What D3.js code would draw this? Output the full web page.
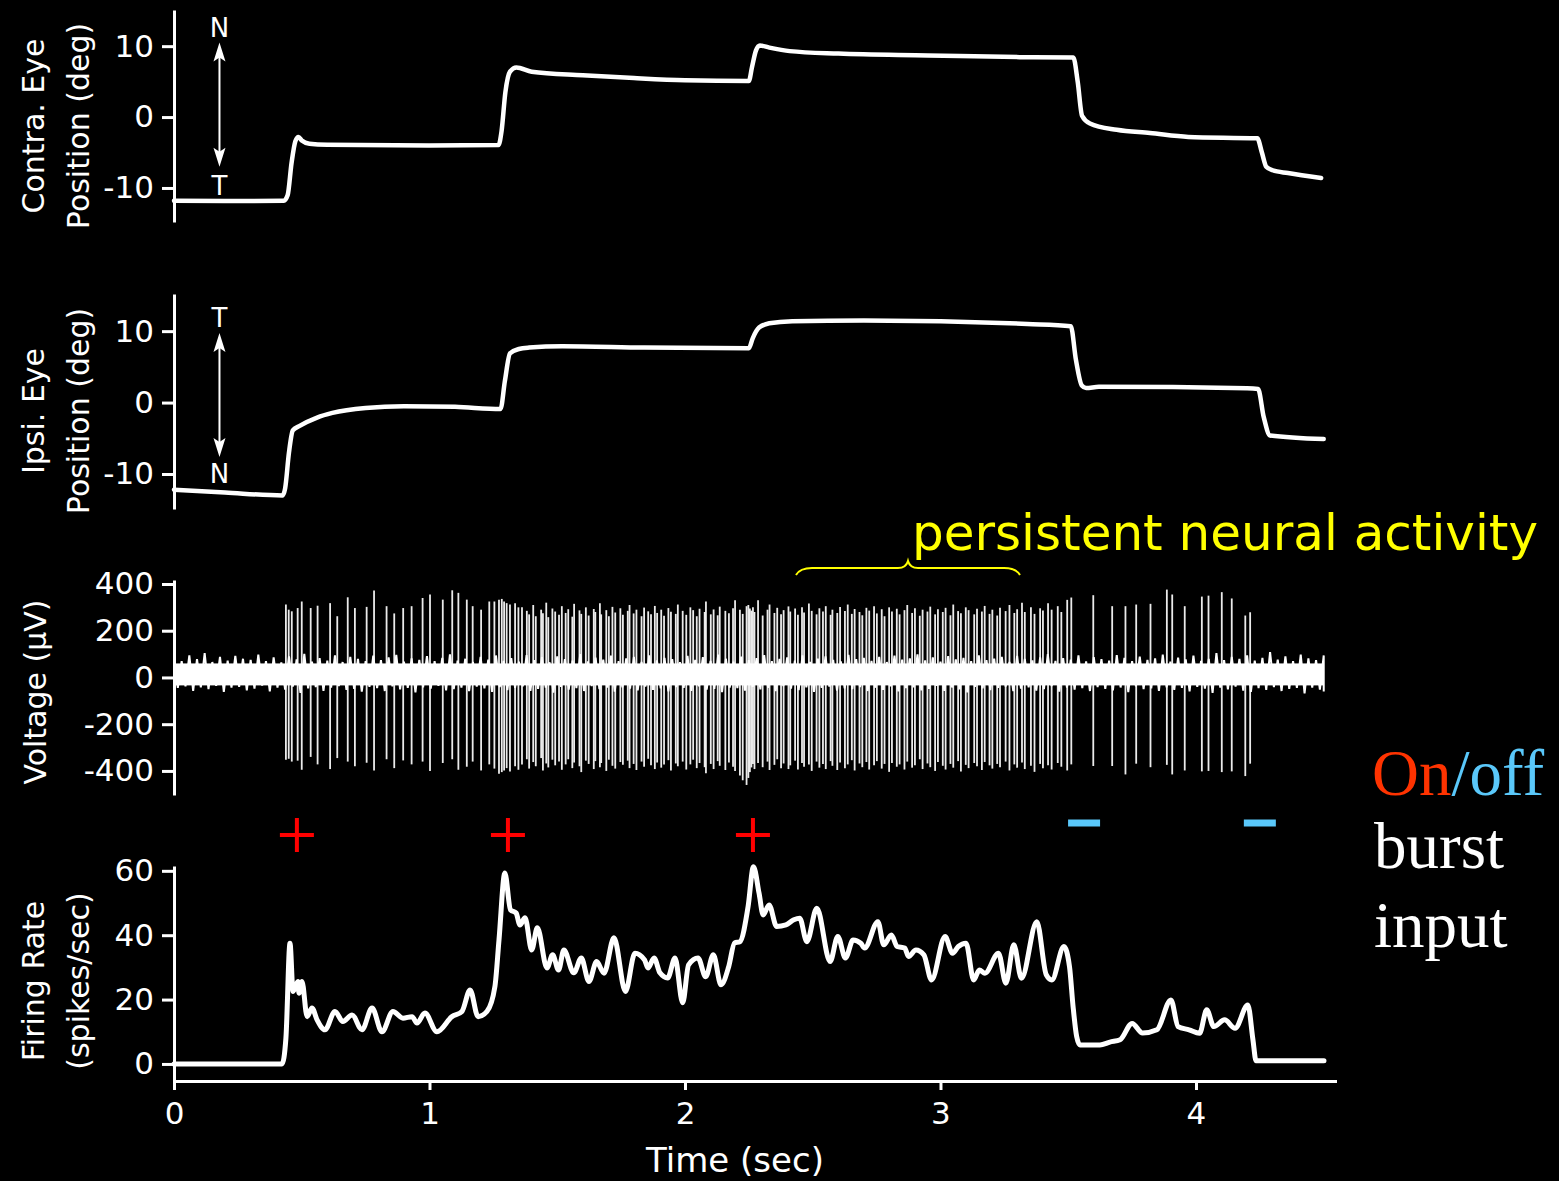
<!DOCTYPE html>
<html><head><meta charset="utf-8">
<script src="https://cdn.jsdelivr.net/npm/d3@7"></script>
<style>
html,body{margin:0;padding:0;background:#000;}
svg{display:block;background:#000;}
</style></head><body>
<svg id="chart" width="1559" height="1181"></svg>
<script>
// ---------------- DATA ----------------
const timeTicks = [0, 1, 2, 3, 4];
const eyeTicks = [-10, 0, 10];
const voltTicks = [-400, -200, 0, 200, 400];
const rateTicks = [0, 20, 40, 60];

// Contralateral eye position (deg)
const contraT   = [0,0.2,0.43,0.445,0.46,0.475,0.487,0.50,0.53,0.60,1.0,1.27,1.282,1.297,1.315,1.34,1.40,1.6,1.8,2.0,2.25,2.262,2.278,2.293,2.33,2.41,2.6,2.95,3.31,3.52,3.537,3.554,3.585,3.69,3.82,3.97,4.24,4.258,4.275,4.30,4.36,4.49];
const contraDeg = [-11.8,-11.85,-11.8,-11.0,-6.5,-3.4,-2.8,-3.3,-3.75,-3.9,-4.0,-3.95,-2.0,3.5,6.4,7.0,6.4,5.9,5.5,5.2,5.1,7.0,9.4,10.1,9.8,9.3,8.95,8.7,8.45,8.4,5.0,0.2,-0.9,-1.8,-2.25,-2.8,-3.0,-5.0,-7.0,-7.5,-7.9,-8.6];

// Ipsilateral eye position (deg)
const ipsiT   = [0,0.2,0.425,0.435,0.45,0.465,0.49,0.56,0.62,0.75,0.9,1.1,1.278,1.295,1.315,1.35,1.39,1.52,1.84,2.25,2.265,2.29,2.33,2.42,2.70,3.34,3.51,3.53,3.553,3.57,3.62,4.20,4.243,4.265,4.29,4.50];
const ipsiDeg = [-12.2,-12.6,-13.0,-12.0,-7,-3.9,-3.3,-2.1,-1.45,-0.75,-0.5,-0.6,-0.9,3.0,6.9,7.5,7.7,7.9,7.7,7.6,9.0,10.5,11.1,11.4,11.5,11.0,10.7,6,2.4,2.05,2.2,2.0,1.9,-2,-4.6,-5.1];

// Voltage: background noise band core (µV) and noise excursions, sampled evenly over 0–4.5 s
const noiseCore = [-34, 60];
const noiseUpper = [85,70,95,78,104,66,88,72,92,80,75,98,70,86,64,90,77,101,68,83,
 72,95,66,88,79,70,93,74,86,97,68,82,75,91,70,84,99,72,80,66,
 88,76,94,71,83,68,96,74,87,65,90,78,72,100,69,85,76,93,70,82,
 88,67,95,73,84,78,66,92,75,87,71,98,80,68,89,74,83,96,70,79,
 86,72,94,67,81,90,75,69,97,78,84,71,88,66,93,76,82,99,73,86,
 68,91,77,84,70,95,74,81,88,67,92,79,73,86,100,71,83,76,94,69,
 87,78,72,96,84,70,89,75,82,98,68,85,77,93,71,80,104,74,88,79,
 95,72,84,108,76,90,70,98,82,74,94];
const noiseLower = [-45,-38,-58,-42,-50,-36,-62,-44,-40,-55,-48,-35,-60,-43,-52,-39,-66,-47,-41,-57,
 -44,-37,-53,-49,-61,-40,-46,-58,-38,-51,-45,-64,-42,-48,-36,-55,-50,-43,-59,-39,
 -47,-62,-41,-54,-45,-38,-57,-49,-43,-65,-40,-52,-46,-58,-37,-50,-44,-61,-42,-48,
 -55,-39,-53,-47,-60,-41,-45,-57,-38,-52,-49,-63,-43,-46,-56,-40,-51,-44,-59,-37,
 -48,-54,-42,-62,-45,-39,-56,-47,-50,-41,-58,-44,-53,-38,-60,-46,-42,-55,-49,-36,
 -57,-43,-51,-64,-40,-47,-54,-45,-39,-59,-48,-42,-56,-50,-37,-61,-44,-52,-46,-58,
 -41,-49,-55,-43,-63,-38,-50,-47,-57,-42,-53,-45,-60,-40,-48,-66,-44,-51,-39,-56,
 -62,-46,-53,-41,-58,-49,-45,-68,-43,-52,-60];

// Voltage: spikes (time s, peak µV, trough µV)
const spikeTimes = [
 0.438,0.449,0.461,0.484,0.500,0.535,0.562,0.611,0.639,0.680,0.708,0.754,0.783,0.832,0.862,0.897,0.930,0.973,1.002,1.052,1.089,1.113,1.146,1.169,1.202,1.234,1.254,1.272,1.283,1.292,1.302,1.315,1.335,1.348,
 1.362,1.381,1.390,1.406,1.416,1.437,1.444,1.457,1.465,1.481,
 1.492,1.507,1.518,1.533,1.543,1.559,1.566,1.587,1.594,1.612,
 1.623,1.643,1.649,1.667,1.672,1.692,1.702,1.716,1.727,1.747,
 1.757,1.776,1.783,1.799,1.810,1.830,1.840,1.856,1.867,1.882,
 1.891,1.907,1.918,1.935,1.945,1.964,1.972,1.991,2.005,2.021,
 2.032,2.046,2.057,2.077,2.082,2.101,2.112,2.128,2.136,2.158,
 2.172,2.188,2.196,2.215,2.226,2.241,2.248,2.254,2.260,2.266,
 2.272,2.286,2.304,2.323,2.331,2.350,2.361,2.376,2.386,2.405,
 2.412,2.431,2.442,2.458,2.466,2.485,2.496,2.515,2.526,2.540,
 2.551,2.570,2.577,2.596,2.607,2.626,2.637,2.653,2.664,2.683,
 2.694,2.710,2.721,2.740,2.751,2.770,2.781,2.799,2.810,2.829,
 2.840,2.859,2.870,2.889,2.900,2.919,2.930,2.949,2.960,2.979,
 2.990,3.009,3.020,3.039,3.050,3.069,3.080,3.099,3.110,3.132,
 3.143,3.162,3.173,3.192,3.203,3.222,3.233,3.255,3.270,3.289,
 3.300,3.319,3.330,3.354,3.368,3.390,3.401,3.421,3.435,3.459,
 3.473,3.496,3.512,
 3.598,3.672,3.724,3.766,3.822,3.886,3.907,3.956,4.023,4.049,4.101,4.140,4.193,4.212];
const spikePeaks = [
 312,290,283,297,325,297,307,318,262,343,297,302,372,305,274,297,305,340,355,333,373,362,333,305,290,325,325,333,336,325,318,312,318,300,
 300,285,270,310,262,290,275,320,258,295,
 282,268,305,276,292,260,315,287,272,300,
 265,293,280,318,270,288,262,302,278,296,
 268,285,310,274,290,262,299,283,270,306,
 276,290,264,297,281,272,312,285,268,300,
 288,262,294,280,325,270,291,266,303,285,
 275,296,330,290,272,305,310,295,286,300,
 280,330,265,290,312,276,298,270,288,304,
 282,295,268,300,278,316,285,270,296,282,
 305,268,290,276,302,284,312,272,293,280,
 266,298,286,305,274,292,262,300,282,294,
 270,288,310,276,296,264,290,282,303,270,
 292,280,298,266,312,284,275,300,288,270,
 294,282,306,272,290,265,298,284,310,276,
 292,320,280,300,272,296,286,318,290,305,
 280,332,342,
 352,305,305,312,315,376,355,305,346,350,365,338,265,279];
const spikeTroughs = [
 -352,-348,-360,-356,-395,-340,-372,-392,-345,-360,-380,-365,-398,-350,-388,-355,-372,-360,-400,-366,-350,-395,-382,-360,-398,-372,-390,-412,-405,-398,-388,-402,-380,-395,
 -372,-350,-390,-362,-380,-345,-398,-368,-385,-352,
 -376,-360,-395,-372,-350,-388,-364,-380,-405,-356,
 -370,-392,-358,-384,-366,-400,-352,-378,-390,-362,
 -374,-356,-388,-370,-396,-360,-382,-348,-376,-392,
 -364,-386,-372,-354,-398,-368,-380,-360,-394,-372,
 -352,-388,-366,-384,-410,-370,-392,-358,-378,-396,
 -364,-382,-400,-420,-440,-460,-430,-405,-385,-370,
 -392,-366,-384,-360,-396,-374,-350,-388,-368,-392,
 -376,-356,-394,-366,-382,-372,-400,-360,-386,-370,
 -392,-358,-378,-396,-364,-388,-372,-354,-398,-368,
 -384,-362,-394,-376,-358,-390,-370,-404,-366,-382,
 -372,-394,-360,-386,-376,-350,-392,-368,-384,-400,
 -362,-378,-394,-370,-386,-358,-402,-374,-388,-366,
 -380,-396,-362,-376,-390,-370,-384,-360,-398,-372,
 -386,-364,-392,-378,-404,-370,-388,-376,-394,-366,
 -382,-398,-372,
 -379,-379,-415,-369,-384,-374,-415,-398,-402,-400,-405,-402,-422,-369];

// Firing rate (spikes/sec)
const rateT = [0,0.423,0.438,0.454,0.466,0.485,0.489,0.501,0.521,0.540,0.560,0.591,0.630,0.661,0.697,0.736,0.775,0.814,0.857,0.896,0.932,0.951,0.982,1.029,1.088,1.127,1.159,1.190,1.225,1.256,1.272,1.295,1.317,1.339,1.354,1.374,1.400,1.422,1.460,1.482,1.505,1.526,1.565,1.594,1.624,1.654,1.683,1.722,1.767,1.804,1.842,1.855,1.879,1.902,1.932,1.961,1.991,2.014,2.051,2.081,2.111,2.141,2.171,2.194,2.215,2.247,2.268,2.290,2.306,2.329,2.359,2.395,2.426,2.449,2.477,2.516,2.568,2.598,2.628,2.658,2.688,2.703,2.755,2.778,2.808,2.830,2.860,2.875,2.904,2.935,2.965,3.018,3.047,3.070,3.100,3.130,3.152,3.174,3.227,3.256,3.287,3.317,3.377,3.414,3.436,3.483,3.505,3.519,3.533,3.546,3.624,3.663,3.703,3.750,3.791,3.847,3.902,3.930,3.973,4.014,4.042,4.070,4.112,4.153,4.203,4.223,4.235,4.501];
const rateVal = [0,0,8,37.5,22.5,25.6,22,25.6,14.7,17.4,13.7,10.6,16.3,13.2,15.2,10.6,17.4,10.0,16.3,14.2,14.7,12.7,15.8,10.0,14.7,16.3,23,14.7,16.3,24,38.5,59.3,47.9,46.9,43.2,45.4,35.4,42.3,29.8,33.9,29.2,35.4,28.3,32.9,25.6,31.8,28.2,39.2,22.5,34.4,32.3,29.8,32.9,28.3,26.7,32.9,19,30.8,32.9,27.1,33.9,24.6,30.2,37.6,38,48.9,61.3,53,46.3,49.4,42.7,43.2,44.8,45.3,38,48.4,31.8,39.6,32.9,38.5,37.5,36,44.2,37,40.1,36.5,36,33.4,35.4,33.9,26.1,39.6,34.4,36.5,37.5,26.1,29.2,28.2,34.4,25.1,37,26.6,44.2,27.7,26.1,36.5,30.2,17.8,8.5,5.9,5.9,6.8,7.5,12.6,9.6,10.6,19.9,11.6,10.6,9.5,16.8,11.6,13.7,11.1,18.3,7.5,1.0,1.0];

// Burst input markers (s)
const onTimes = [0.481, 1.307, 2.266];
const offTimes = [3.562, 4.250];

// ---------------- DRAWING ----------------
const svg = d3.select('#chart');
const FONT = "'DejaVu Sans', sans-serif";
const x = d3.scaleLinear().domain([0, 4.55]).range([174, 1336.5]);

const y1 = d3.scaleLinear().domain([-14.8, 15.1]).range([222, 10]);
const y2 = d3.scaleLinear().domain([-14.9, 15.2]).range([509, 294]);
const y3 = d3.scaleLinear().domain([-503, 417]).range([795, 580]);
const y4 = d3.scaleLinear().domain([-5.3, 61.5]).range([1081, 866]);

function yAxis(scale, ticks) {
  const g = svg.append('g').attr('transform', 'translate(174,0)')
    .call(d3.axisLeft(scale).tickValues(ticks).tickSize(12).tickSizeOuter(0).tickPadding(8).tickFormat(d => String(d)));
  g.attr('font-family', FONT).attr('font-size', 31).style('color', '#fff');
  g.select('.domain').attr('stroke-width', 3);
  g.selectAll('.tick line').attr('stroke-width', 3);
  return g;
}
yAxis(y1, eyeTicks); yAxis(y2, eyeTicks); yAxis(y3, voltTicks); yAxis(y4, rateTicks);

const gx = svg.append('g').attr('transform', 'translate(0,1081)')
  .call(d3.axisBottom(x).tickValues(timeTicks).tickSize(9).tickSizeOuter(0).tickPadding(12).tickFormat(d => String(d)));
gx.attr('font-family', FONT).attr('font-size', 31).style('color', '#fff');
gx.select('.domain').attr('stroke-width', 3);
gx.selectAll('.tick line').attr('stroke-width', 3);

svg.append('text').attr('x', 735).attr('y', 1172).attr('text-anchor', 'middle')
  .attr('font-family', FONT).attr('font-size', 34).attr('fill', '#fff').text('Time (sec)');

// axis titles
function yTitle(lines, cy) {
  const xs = lines.length === 2 ? [33, 78] : [35];
  lines.forEach((t, i) => {
    svg.append('text').attr('transform', `translate(${xs[i] + 11},${cy}) rotate(-90)`)
      .attr('text-anchor', 'middle').attr('font-family', FONT).attr('font-size', 30)
      .attr('fill', '#fff').text(t);
  });
}
yTitle(['Contra. Eye', 'Position (deg)'], 126);
yTitle(['Ipsi. Eye', 'Position (deg)'], 411);
yTitle(['Voltage (\u03bcV)'], 692);
yTitle(['Firing Rate', '(spikes/sec)'], 981);

// traces
function trace(ts, vs, ys, w) {
  const line = d3.line().x(d => x(d[0])).y(d => ys(d[1])).curve(d3.curveMonotoneX);
  svg.append('path').datum(ts.map((t, i) => [t, vs[i]])).attr('d', line)
    .attr('fill', 'none').attr('stroke', '#fff').attr('stroke-width', w)
    .attr('stroke-linejoin', 'round').attr('stroke-linecap', 'round');
}
trace(contraT, contraDeg, y1, 4.5);
trace(ipsiT, ipsiDeg, y2, 4.5);

// N/T arrows
function arrow(t, vTop, vBot, ys, labTop, vLabTop, labBot, vLabBot) {
  const ax = x(t), yt = ys(vTop), yb = ys(vBot);
  svg.append('line').attr('x1', ax).attr('x2', ax).attr('y1', yt + 10).attr('y2', yb - 10)
    .attr('stroke', '#fff').attr('stroke-width', 2);
  svg.append('path').attr('d', `M${ax},${yt} L${ax - 6},${yt + 19} L${ax},${yt + 15} L${ax + 6},${yt + 19} Z`).attr('fill', '#fff');
  svg.append('path').attr('d', `M${ax},${yb} L${ax - 6},${yb - 19} L${ax},${yb - 15} L${ax + 6},${yb - 19} Z`).attr('fill', '#fff');
  svg.append('text').attr('x', ax).attr('y', ys(vLabTop)).attr('text-anchor', 'middle')
    .attr('font-family', FONT).attr('font-size', 26).attr('fill', '#fff').text(labTop);
  svg.append('text').attr('x', ax).attr('y', ys(vLabBot)).attr('text-anchor', 'middle')
    .attr('font-family', FONT).attr('font-size', 26).attr('fill', '#fff').text(labBot);
}
arrow(0.178, 10.5, -7.0, y1, 'N', 11.3, 'T', -11.0);
arrow(0.178, 9.74, -7.62, y2, 'T', 10.58, 'N', -11.26);

// voltage noise: solid core band + jagged trace alternating between excursions
const tEnd = 4.5;
svg.append('rect').attr('x', x(0.005)).attr('width', x(tEnd) - x(0.005))
  .attr('y', y3(noiseCore[1])).attr('height', y3(noiseCore[0]) - y3(noiseCore[1]))
  .attr('fill', '#fff');
const nStep = tEnd / (noiseUpper.length - 1);
const zig = [];
noiseUpper.forEach((v, i) => {
  zig.push([i * nStep, v]);
  if (i < noiseLower.length) zig.push([Math.min(tEnd, i * nStep + nStep / 2), noiseLower[i]]);
});
svg.append('path').datum(zig)
  .attr('d', d3.line().x(d => x(d[0])).y(d => y3(d[1])))
  .attr('fill', 'none').attr('stroke', '#fff').attr('stroke-width', 2).attr('stroke-linejoin', 'miter');

// spikes
svg.append('g').selectAll('line').data(spikeTimes).join('line')
  .attr('x1', d => x(d)).attr('x2', d => x(d))
  .attr('y1', (d, i) => y3(spikePeaks[i])).attr('y2', (d, i) => y3(spikeTroughs[i]))
  .attr('stroke', '#fff').attr('stroke-width', 1.8).attr('stroke-opacity', 0.92);

// firing rate
trace(rateT, rateVal, y4, 5);

// burst markers
const plusY = 835, minusY = 823;
onTimes.forEach(t => {
  const cx = x(t);
  svg.append('line').attr('x1', cx - 17).attr('x2', cx + 17).attr('y1', plusY).attr('y2', plusY)
    .attr('stroke', '#ff0000').attr('stroke-width', 4);
  svg.append('line').attr('x1', cx).attr('x2', cx).attr('y1', plusY - 17).attr('y2', plusY + 17)
    .attr('stroke', '#ff0000').attr('stroke-width', 4);
});
offTimes.forEach(t => {
  const cx = x(t);
  svg.append('line').attr('x1', cx - 16).attr('x2', cx + 16).attr('y1', minusY).attr('y2', minusY)
    .attr('stroke', '#5ac8fa').attr('stroke-width', 7);
});

// persistent activity annotation
svg.append('path')
  .attr('d', 'M796,575 Q800,568 812,568 L898,568 Q906,568 908,561 Q910,568 918,568 L1004,568 Q1016,568 1020,575')
  .attr('fill', 'none').attr('stroke', '#ffff00').attr('stroke-width', 2);
svg.append('text').attr('x', 912).attr('y', 550)
  .attr('font-family', FONT).attr('font-size', 50).attr('fill', '#ffff00').text('persistent neural activity');

// On/off burst input
const serif = "'Liberation Serif', 'Times New Roman', serif";
const onoff = svg.append('text').attr('x', 1372).attr('y', 795).attr('font-family', serif).attr('font-size', 65);
onoff.append('tspan').attr('fill', '#ff3300').text('On');
onoff.append('tspan').attr('fill', '#5ac8fa').text('/off');
svg.append('text').attr('x', 1374).attr('y', 868).attr('font-family', serif).attr('font-size', 65).attr('fill', '#fff').text('burst');
svg.append('text').attr('x', 1374).attr('y', 947).attr('font-family', serif).attr('font-size', 65).attr('fill', '#fff').text('input');
</script>
</body></html>
